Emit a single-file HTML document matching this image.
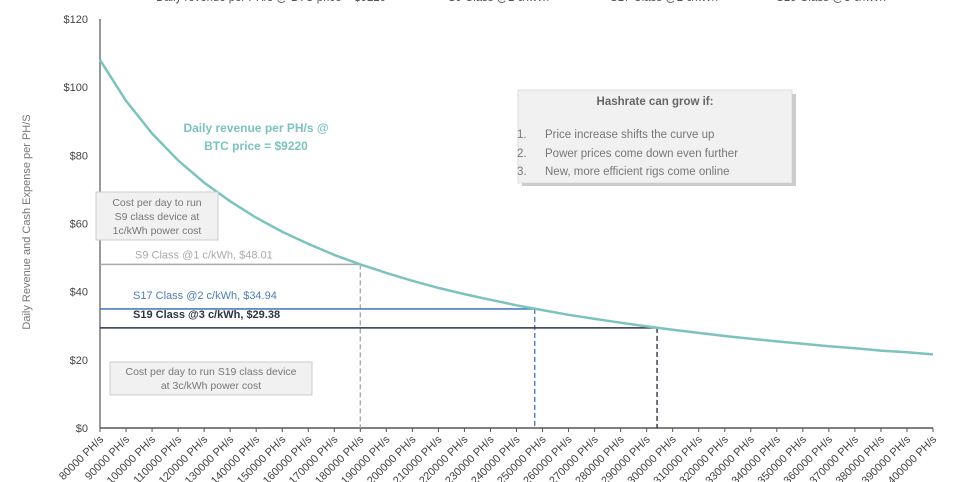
<!DOCTYPE html>
<html><head><meta charset="utf-8"><style>
body{margin:0;background:#fff;}
svg{display:block;font-family:"Liberation Sans",sans-serif;}
</style></head><body>
<svg id="chart" width="960" height="482" viewBox="0 0 960 482">
<g id="legend" fill="#555">
 <g><rect x="123" y="-4" width="18" height="4" fill="#9fd3cf"/><text x="156" y="1" font-size="13" textLength="230" lengthAdjust="spacingAndGlyphs">Daily revenue per PH/s @ BTC price = $9220</text></g>
 <g><rect x="417" y="-4" width="24" height="4" fill="#bbb"/><text x="448" y="1" font-size="13" textLength="101" lengthAdjust="spacingAndGlyphs">S9 Class @1 c/kWh</text></g>
 <g><rect x="577" y="-4" width="27" height="4" fill="#8aa8d0"/><text x="610" y="1" font-size="13" textLength="108" lengthAdjust="spacingAndGlyphs">S17 Class @2 c/kWh</text></g>
 <g><rect x="745" y="-4" width="25" height="4" fill="#333"/><text x="776" y="1" font-size="13" textLength="110" lengthAdjust="spacingAndGlyphs">S19 Class @3 c/kWh</text></g>
</g>
<text transform="translate(30,222) rotate(-90)" text-anchor="middle" font-size="11" fill="#777">Daily Revenue and Cash Expense per PH/S</text>
<g id="yaxis"></g>
<g id="xaxis"></g>
<g id="marks"></g>
<g>
 <rect x="96" y="192" width="122" height="48" fill="#f1f1f1" stroke="#ccc"/>
 <text x="157" y="206" font-size="10.5" fill="#777" text-anchor="middle">Cost per day to run</text>
 <text x="157" y="220" font-size="10.5" fill="#777" text-anchor="middle">S9 class device at</text>
 <text x="157" y="234" font-size="10.5" fill="#777" text-anchor="middle">1c/kWh power cost</text>
</g>
<g>
 <rect x="110" y="362" width="202" height="33" fill="#f1f1f1" stroke="#ccc"/>
 <text x="211" y="375" font-size="10.5" fill="#777" text-anchor="middle">Cost per day to run S19 class device</text>
 <text x="211" y="389" font-size="10.5" fill="#777" text-anchor="middle">at 3c/kWh power cost</text>
</g>
<g>
 <rect x="518" y="90" width="274" height="93" fill="#f1f1f1" stroke="#ddd"/>
 <rect x="792" y="94" width="4" height="92" fill="#ccc"/><rect x="522" y="183" width="274" height="3" fill="#ccc"/>
 <text x="655" y="105" font-size="11.5" font-weight="bold" fill="#666" text-anchor="middle">Hashrate can grow if:</text>
 <g font-size="11.5" fill="#777">
 <text x="517" y="138">1.</text><text x="545" y="138">Price increase shifts the curve up</text>
 <text x="517" y="157">2.</text><text x="545" y="157">Power prices come down even further</text>
 <text x="517" y="175">3.</text><text x="545" y="175">New, more efficient rigs come online</text>
 </g>
</g>
<text x="256" y="132" font-size="12" font-weight="bold" fill="#7cc3bd" text-anchor="middle">Daily revenue per PH/s @</text>
<text x="256" y="150" font-size="12" font-weight="bold" fill="#7cc3bd" text-anchor="middle">BTC price = $9220</text>
</svg>
<script>
const hashrates=[80000,90000,100000,110000,120000,130000,140000,150000,160000,170000,180000,190000,200000,210000,220000,230000,240000,250000,260000,270000,280000,290000,300000,310000,320000,330000,340000,350000,360000,370000,380000,390000,400000];
const revenue=[108,96,86.4,78.5,72,66.5,61.7,57.6,54,50.8,48,45.5,43.2,41.1,39.3,37.6,36,34.6,33.2,32,30.9,29.8,28.8,27.9,27,26.2,25.4,24.7,24,23.4,22.7,22.2,21.6];
const yTicks=[0,20,40,60,80,100,120];
const costNames=["S9 Class @1 c/kWh","S17 Class @2 c/kWh","S19 Class @3 c/kWh"];
const costValues=[48.01,34.94,29.38];
const costBreakeven=[180000,247000,294000];
const costColors=["#aaa","#4f7fb8","#2b3444"];
const costBold=[false,false,true];
const NS="http://www.w3.org/2000/svg";
const X0=100,X1=933,Y0=428,Y1=19;
const xs=h=>X0+(h-hashrates[0])/(hashrates[hashrates.length-1]-hashrates[0])*(X1-X0);
const ys=v=>Y0-v/120*(Y0-Y1);
function mk(p,t,a){const e=document.createElementNS(NS,t);for(const k in a)e.setAttribute(k,a[k]);p.appendChild(e);return e;}
const yg=document.getElementById('yaxis'),xg=document.getElementById('xaxis'),mg=document.getElementById('marks');
mk(yg,'line',{x1:X0,x2:X0,y1:Y1,y2:Y0,stroke:'#777','stroke-width':1.5});
yTicks.forEach(v=>{const t=mk(yg,'text',{x:X0-12,y:ys(v)+4,'text-anchor':'end','font-size':11,fill:'#444'});t.textContent='$'+v;

});
mk(xg,'line',{x1:X0,x2:X1,y1:Y0,y2:Y0,stroke:'#555','stroke-width':1.5});
hashrates.forEach(h=>{const x=xs(h);mk(xg,'line',{x1:x,x2:x,y1:Y0,y2:Y0+4,stroke:'#555'});
const t=mk(xg,'text',{transform:`translate(${x+4},${Y0+12}) rotate(-45)`,'text-anchor':'end','font-size':11,fill:'#444'});t.textContent=h+' PH/s';

});
costValues.forEach((v,i)=>{const y=ys(v),x=xs(costBreakeven[i]);
const l=mk(mg,'line',{x1:X0,x2:x,y1:y,y2:y,stroke:costColors[i],'stroke-width':1.6});


const d=mk(mg,'line',{x1:x,x2:x,y1:y,y2:Y0,stroke:costColors[i],'stroke-width':1.4,'stroke-dasharray':'5,3'});


const t=mk(mg,'text',{x:i==0?135:133,y:i==0?y-6:y-10,'font-size':11,fill:costColors[i],'font-weight':costBold[i]?'bold':'normal'});
t.textContent=costNames[i]+', $'+v.toFixed(2);

});
const p=mk(mg,'path',{d:revenue.map((v,i)=>(i?'L':'M')+xs(hashrates[i]).toFixed(1)+','+ys(v).toFixed(1)).join(''),fill:'none',stroke:'#7cc3bd','stroke-width':2.5});


</script>
</body></html>
